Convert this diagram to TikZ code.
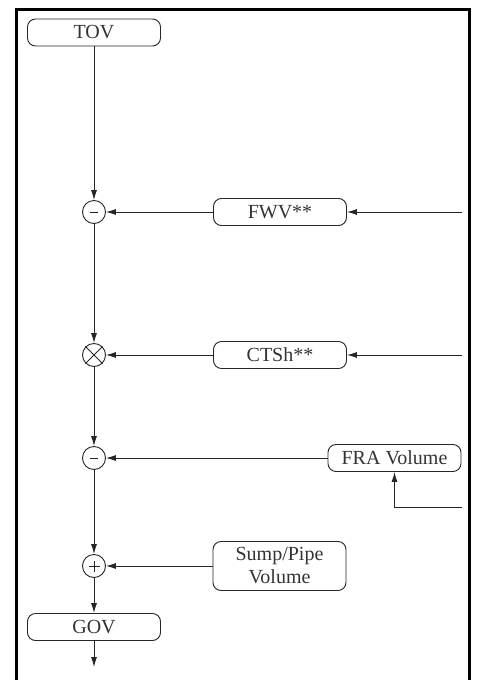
\documentclass[tikz,border=0pt]{standalone}
\usepackage{fontspec}
\setmainfont{Liberation Serif}
\usetikzlibrary{arrows.meta}
\begin{document}
\begin{tikzpicture}[x=1pt,y=-1pt,
 box/.style={draw=black!85, line width=0.9pt, rounded corners=8pt, minimum width=133pt, minimum height=27pt, inner sep=0pt, text=black!80, font=\fontsize{20}{23}\selectfont, align=center},
 op/.style={draw=black!85, circle, line width=0.9pt, minimum size=23pt, inner sep=0pt},
 arr/.style={draw=black!85, line width=0.9pt, -{Latex[length=10pt,width=6pt]}},
 ln/.style={draw=black!85, line width=0.9pt}]
\useasboundingbox (0,0) rectangle (482,680);
\begin{scope}
\clip (0,0) rectangle (482,680);
\draw[line width=3pt] (16,9) rectangle (469,700);
\end{scope}
\node[box] (tov) at (94,32.5) {TOV};
\node[op] (c1) at (94,212) {};
\node[box] (fwv) at (280,212) {FWV**};
\node[op] (c2) at (94,355) {};
\node[box] (ctsh) at (280,355) {CTSh**};
\node[op] (c3) at (94,458) {};
\node[box] (fra) at (394.5,458) {FRA Volume};
\node[op] (c4) at (94,566) {};
\node[box, minimum height=49pt] (sump) at (279.5,566) {Sump/Pipe\\Volume};
\node[box] (gov) at (94,627) {GOV};
\coordinate (end) at (94,667);
\coordinate (in1) at (462,212);
\coordinate (in2) at (462,355);
\coordinate (in3) at (462,507);
\coordinate (k) at (394.5,507);
\draw[arr] (tov) -- (c1);
\draw[arr] (c1) -- (c2);
\draw[arr] (c2) -- (c3);
\draw[arr] (c3) -- (c4);
\draw[arr] (c4) -- (gov);
\draw[arr] (gov) -- (end);
\draw[arr] (fwv) -- (c1);
\draw[arr] (in1) -- (fwv);
\draw[arr] (ctsh) -- (c2);
\draw[arr] (in2) -- (ctsh);
\draw[arr] (fra) -- (c3);
\draw[arr] (in3) -- (k) -- (fra);
\draw[arr] (sump) -- (c4);
\draw[ln] ([xshift=-4pt]c1.center) -- ([xshift=4pt]c1.center);
\draw[ln] ([xshift=-4pt]c3.center) -- ([xshift=4pt]c3.center);
\draw[ln] (c2.north west) -- (c2.south east);
\draw[ln] (c2.north east) -- (c2.south west);
\draw[ln] ([xshift=-5.5pt]c4.center) -- ([xshift=5.5pt]c4.center);
\draw[ln] ([yshift=-5.5pt]c4.center) -- ([yshift=5.5pt]c4.center);
\end{tikzpicture}
\end{document}
